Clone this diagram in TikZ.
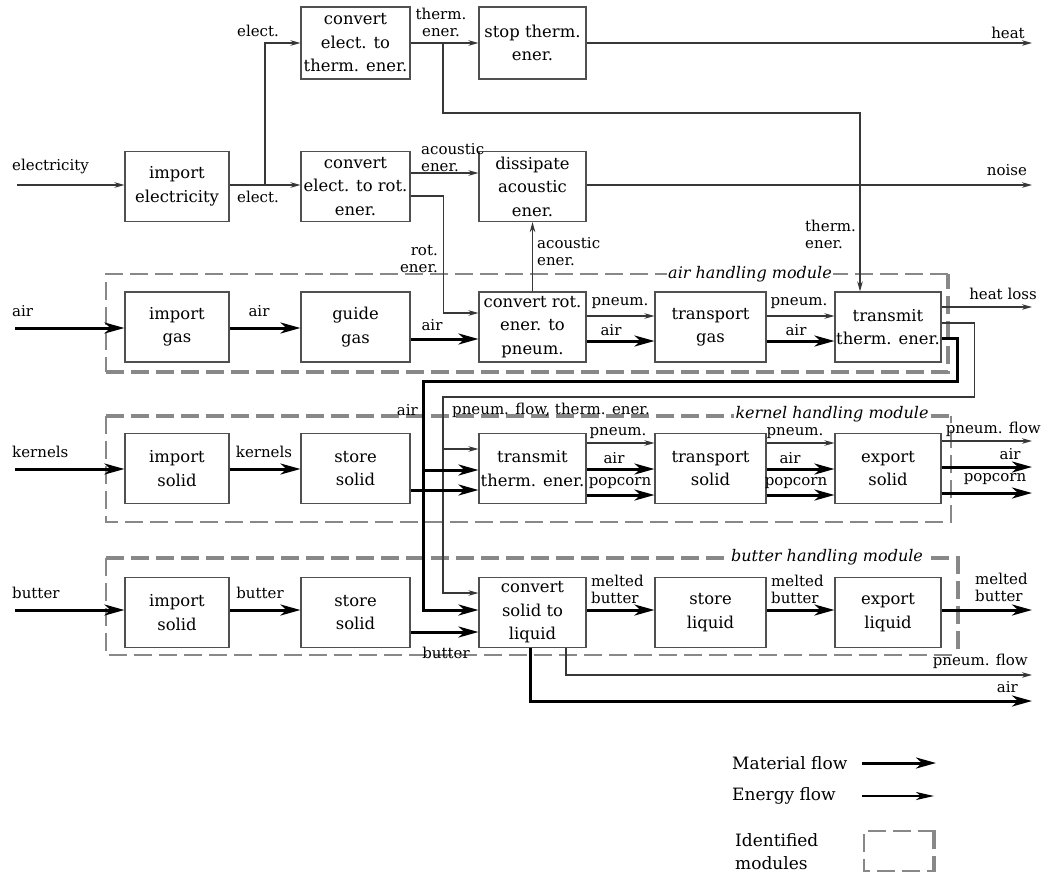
\documentclass[tikz,border=0pt]{standalone}
\usepackage{fontspec}
\setmainfont{DejaVu Serif}
\usetikzlibrary{arrows.meta,calc}

\definecolor{boxline}{RGB}{80,80,80}
\definecolor{thinline}{RGB}{55,55,55}
\definecolor{modgray}{RGB}{136,136,136}

\tikzset{
  fn/.style={draw=boxline, line width=1.1pt, fill=white, align=center, inner sep=0pt,
             minimum height=70pt, font=\fontsize{16.4}{23.5}\selectfont},
  w1/.style={minimum width=104pt},
  w2/.style={minimum width=109pt},
  w3/.style={minimum width=107pt},
  w4/.style={minimum width=111pt},
  w5/.style={minimum width=106pt},
  en/.style={draw=thinline, line width=1.1pt, -{Stealth[length=10pt,width=5.5pt,inset=3pt]}},
  mat/.style={draw=black, line width=3pt, -{Stealth[length=20pt,width=11pt,inset=6pt]}},
  lbl/.style={font=\fontsize{15}{17}\selectfont, inner sep=0pt, align=left},
  lblr/.style={lbl, align=right},
  modthin/.style={draw=modgray, line width=2.8pt, dash pattern=on 18pt off 7pt},
  modthick/.style={draw=modgray, line width=4.8pt, dash pattern=on 18pt off 7pt},
  modlbl/.style={font=\fontsize{16}{19}\selectfont\itshape, fill=white, inner sep=1.5pt},
  legtxt/.style={font=\fontsize{17}{23}\selectfont, inner sep=0pt, align=left}
}

\begin{document}
\begin{tikzpicture}[x=1pt,y=-1pt]
\useasboundingbox (0,0) rectangle (1043,873);

% ---- module frames ----
\draw[modthin]  (948,274) -- (106,274) -- (106,372);
\draw[modthick] (106,372) -- (948,372) -- (948,274);
\draw[modthick] (106,416) -- (951,416);
\draw[modthin]  (106,416) -- (106,522) -- (951,522) -- (951,416);
\draw[modthick] (106,558) -- (958,558) -- (958,655);
\draw[modthin]  (106,558) -- (106,655) -- (958,655);
\node[modlbl] (mAir) at (750,274) {air handling module};
\node[modlbl] (mKer) at (832,414) {kernel handling module};
\node[modlbl] (mBut) at (827,557) {butter handling module};

% ---- function boxes ----
\node[fn,w2,minimum height=72pt] (cvtET) at (355.5,43) {convert\\elect. to\\therm. ener.};
\node[fn,w3,minimum height=72pt] (stopT) at (532.5,43) {stop therm.\\ener.};

\node[fn,w1] (impE)  at (177,186.5)   {import\\electricity};
\node[fn,w2] (cvtER) at (355.5,186.5) {convert\\elect. to rot.\\ener.};
\node[fn,w3] (dissA) at (532.5,186.5) {dissipate\\acoustic\\ener.};

\node[fn,w1] (impG)   at (177,327)   {import\\gas};
\node[fn,w2] (guideG) at (355.5,327) {guide\\gas};
\node[fn,w3] (cvtRP)  at (532.5,327) {convert rot.\\ener. to\\pneum.};
\node[fn,w4] (transG) at (710.5,327) {transport\\gas};
\node[fn,w5] (transT) at (888,327)   {transmit\\therm. ener.};

\node[fn,w1] (impS1)   at (177,468.5)   {import\\solid};
\node[fn,w2] (storeS1) at (355.5,468.5) {store\\solid};
\node[fn,w3] (tranK)   at (532.5,468.5) {transmit\\therm. ener.};
\node[fn,w4] (transS)  at (710.5,468.5) {transport\\solid};
\node[fn,w5] (expS)    at (888,468.5)   {export\\solid};

\node[fn,w1] (impS2)   at (177,612.5)   {import\\solid};
\node[fn,w2] (storeS2) at (355.5,612.5) {store\\solid};
\node[fn,w3] (cvtSL)   at (532.5,612.5) {convert\\solid to\\liquid};
\node[fn,w4] (storeL)  at (710.5,612.5) {store\\liquid};
\node[fn,w5] (expL)    at (888,612.5)   {export\\liquid};

% ---- free ends and bends ----
\coordinate (inElec)  at (17,185);
\coordinate (inAir)   at (15,328);
\coordinate (inKern)  at (15,469);
\coordinate (inBut)   at (15,610);
\coordinate (outHeat) at (1032,43);
\coordinate (outNoise) at (1032,185);
\coordinate (outLoss) at (1032,307);
\coordinate (outPn1)  at (1032,441);
\coordinate (outAir1) at (1032,467);
\coordinate (outPop)  at (1032,493);
\coordinate (outMelt) at (1032,610);
\coordinate (outPn2)  at (1032,675);
\coordinate (outAir2) at (1032,701);
\coordinate (eBr)     at (265,185);
\coordinate (tBr)     at (443,43);
\coordinate (pnBus)   at (443,397);
\coordinate (airBus)  at (423,381);

% ---- energy flows (top) ----
\draw[en] (inElec) -- (impE.west |- inElec);
\draw[en] (impE.east |- inElec) -- (cvtER.west |- inElec);
\draw[en] (eBr) |- (cvtET.west);
\draw[en] (cvtET.east) -- (stopT.west);
\draw[en] (stopT.east) -- (outHeat);
\draw[en] (tBr) -- ++(0,70) -| ([xshift=-28pt]transT.north);
\draw[en] (cvtER.east |- 0,173) -- (dissA.west |- 0,173);
\draw[en] (cvtER.east |- 0,196) -- ++(33,0) |- (cvtRP.west |- 0,313);
\draw[en] (dissA.east |- outNoise) -- (outNoise);
\draw[en] (cvtRP.north) -- (dissA.south);

% ---- air handling ----
\draw[mat] (inAir) -- (impG.west |- inAir);
\draw[mat] (impG.east |- 0,328) -- (guideG.west |- 0,328);
\draw[mat] (guideG.east |- 0,339) -- (cvtRP.west |- 0,339);
\draw[en]  (cvtRP.east |- 0,316) -- (transG.west |- 0,316);
\draw[mat] (cvtRP.east |- 0,341) -- (transG.west |- 0,341);
\draw[en]  (transG.east |- 0,316) -- (transT.west |- 0,316);
\draw[mat] (transG.east |- 0,341) -- (transT.west |- 0,341);
\draw[en]  (transT.east |- outLoss) -- (outLoss);

% return of pneumatic flow and heated air
\draw[en] (transT.east |- 0,323) -- ++(33,0) |- (pnBus) |- (tranK.west |- 0,449);
\draw[en] (pnBus) |- (cvtSL.west |- 0,593);
\draw[mat] (transT.east |- 0,338) -- ++(16,0) |- (airBus) |- (tranK.west |- 0,470);
\draw[mat] (airBus) |- (cvtSL.west |- 0,610);

% ---- kernel handling ----
\draw[mat] (inKern) -- (impS1.west |- inKern);
\draw[mat] (impS1.east |- 0,469) -- (storeS1.west |- 0,469);
\draw[mat] (storeS1.east |- 0,490) -- (tranK.west |- 0,490);
\draw[en]  (tranK.east |- 0,443) -- (transS.west |- 0,443);
\draw[mat] (tranK.east |- 0,469) -- (transS.west |- 0,469);
\draw[mat] (tranK.east |- 0,495) -- (transS.west |- 0,495);
\draw[en]  (transS.east |- 0,443) -- (expS.west |- 0,443);
\draw[mat] (transS.east |- 0,469) -- (expS.west |- 0,469);
\draw[mat] (transS.east |- 0,495) -- (expS.west |- 0,495);
\draw[en]  (expS.east |- outPn1) -- (outPn1);
\draw[mat] (expS.east |- outAir1) -- (outAir1);
\draw[mat] (expS.east |- outPop) -- (outPop);

% ---- butter handling ----
\draw[mat] (inBut) -- (impS2.west |- inBut);
\draw[mat] (impS2.east |- 0,610) -- (storeS2.west |- 0,610);
\draw[mat] (storeS2.east |- 0,632) -- (cvtSL.west |- 0,632);
\draw[mat] (cvtSL.east |- 0,610) -- (storeL.west |- 0,610);
\draw[mat] (storeL.east |- 0,610) -- (expL.west |- 0,610);
\draw[mat] (expL.east |- outMelt) -- (outMelt);
\draw[en]  (cvtSL.south -| 566,0) |- (outPn2);
\draw[mat] (cvtSL.south -| 530,0) |- (outAir2);

% ---- flow labels ----
\node[lbl,anchor=west] (lElec) at (12,166) {electricity};
\node[lbl] (lE1) at (258,31) {elect.};
\node[lbl] (lE2) at (258,197) {elect.};
\node[lbl,align=center] (lTE1) at (441,22.5) {therm.\\ener.};
\node[lbl] (lHeat) at (1008,33) {heat};
\node[lbl,anchor=west] (lAc1) at (421,157.5) {acoustic\\ener.};
\node[lblr,anchor=east] (lRot) at (438,259) {rot.\\ener.};
\node[lbl] (lNoise) at (1007,170) {noise};
\node[lbl,anchor=west] (lAc2) at (537,251.5) {acoustic\\ener.};
\node[lbl,anchor=west] (lTE2) at (805,234.5) {therm.\\ener.};

\node[lbl,anchor=west] (lAir0) at (12,311) {air};
\node[lbl] (lAir1) at (259,311) {air};
\node[lbl] (lAir2) at (432,325) {air};
\node[lbl] (lPn1) at (620,303) {pneum.};
\node[lbl] (lAir3) at (611,330) {air};
\node[lbl] (lPn2) at (799,303) {pneum.};
\node[lbl] (lAir4) at (796,330) {air};
\node[lbl] (lLoss) at (1003,294) {heat loss};
\node[lbl,anchor=east] (lAirR) at (418,410) {air};
\node[lbl,anchor=west] (lPnR) at (452,410) {pneum. flow, therm. ener.};

\node[lbl,anchor=west] (lKer0) at (12,452) {kernels};
\node[lbl] (lKer1) at (264,452) {kernels};
\node[lbl] (lPn3) at (618,433) {pneum.};
\node[lbl] (lAir5) at (614,458) {air};
\node[lbl] (lPop1) at (620,483) {popcorn};
\node[lbl] (lPn4) at (795,433) {pneum.};
\node[lbl] (lAir6) at (790,458) {air};
\node[lbl] (lPop2) at (796,483) {popcorn};
\node[lbl,anchor=east] (lPn5) at (1041,429) {pneum. flow};
\node[lbl] (lAir7) at (1010,454) {air};
\node[lbl] (lPop3) at (995,479) {popcorn};

\node[lbl,anchor=west] (lBut0) at (12,593) {butter};
\node[lbl] (lBut1) at (260,593) {butter};
\node[lbl] (lBut2) at (446,653) {butter};
\node[lbl,anchor=west] (lMb1) at (591,589) {melted\\butter};
\node[lbl,anchor=west] (lMb2) at (771,589) {melted\\butter};
\node[lbl,anchor=west] (lMb3) at (975,587) {melted\\butter};
\node[lbl,anchor=east] (lPn6) at (1028,661) {pneum. flow};
\node[lbl,anchor=east] (lAir8) at (1018,687) {air};

% ---- legend ----
\node[legtxt,anchor=west] (legM) at (732,763) {Material flow};
\node[legtxt,anchor=west] (legE) at (732,796) {Energy flow};
\node[legtxt,anchor=west] (legI) at (735,851.5) {Identified\\modules};
\coordinate (legMa) at (862,763);
\coordinate (legMb) at (936,763);
\coordinate (legEa) at (862,796);
\coordinate (legEb) at (934,796);
\draw[mat] (legMa) -- (legMb);
\draw[black, line width=2.2pt, -{Stealth[length=18pt,width=8pt,inset=5pt]}] (legEa) -- (legEb);
\draw[modthin]  (936,831) -- (864,831) -- (864,871) -- (936,871);
\draw[modthick] (934,831) -- (934,871);
\end{tikzpicture}
\end{document}
